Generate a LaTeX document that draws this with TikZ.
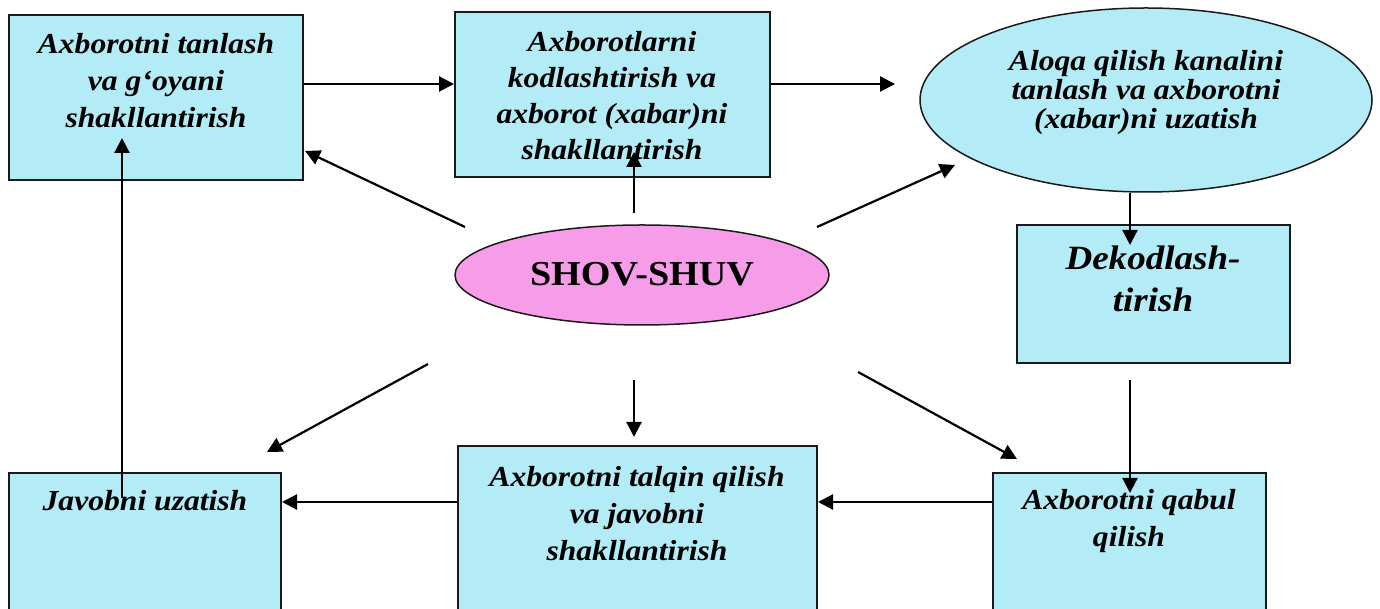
\documentclass[tikz,border=0pt]{standalone}
\usepackage{fontspec}
\newfontfamily\tnr{Liberation Serif}[FakeStretch=1.09]
\usetikzlibrary{arrows.meta,shapes.geometric}
\definecolor{boxcyan}{HTML}{B3EBF6}
\definecolor{shuvpink}{HTML}{F79CE8}
\definecolor{edgecol}{HTML}{1A1A1A}
\begin{document}
\begin{tikzpicture}[x=1pt,y=1pt,
  box/.style={draw=edgecol, line width=2pt, fill=boxcyan, inner sep=0pt},
  oval/.style={ellipse, draw=edgecol, line width=1.5pt, inner sep=0pt},
  txt/.style={font=\tnr\bfseries\itshape\fontsize{29}{37}\selectfont, align=center, inner sep=0pt, anchor=north},
  arr/.style={line width=2.2pt, draw=black, -{Triangle[length=15pt,width=15pt]}}]
\useasboundingbox (0,0) rectangle (1380,609);
\clip (0,0) rectangle (1380,609);
% boxes
\node[box, minimum width=294pt, minimum height=165pt] (A) at (156,511.5) {};
\node[box, minimum width=315pt, minimum height=165pt] (B) at (612.5,514.5) {};
\node[oval, fill=boxcyan, minimum width=452pt, minimum height=184pt] (C) at (1146,509) {};
\node[box, minimum width=273pt, minimum height=138pt] (D) at (1153.5,315) {};
\node[box, minimum width=273pt, minimum height=160pt] (E) at (1129.5,56) {};
\node[box, minimum width=359pt, minimum height=187pt] (F) at (637.5,69.5) {};
\node[box, minimum width=272pt, minimum height=160pt] (G) at (145,56) {};
\node[oval, fill=shuvpink, minimum width=374pt, minimum height=100pt] (S) at (642,334) {};
% texts
\node[txt] (tA) at (156,576) {Axborotni tanlash\\va g‘oyani\\shakllantirish};
\node[txt, font=\tnr\bfseries\itshape\fontsize{29}{36}\selectfont] (tB) at (612,578) {Axborotlarni\\kodlashtirish va\\axborot (xabar)ni\\shakllantirish};
\node[txt, font=\tnr\bfseries\itshape\fontsize{29}{29}\selectfont] (tC) at (1146,559) {Aloqa qilish kanalini\\tanlash va axborotni\\(xabar)ni uzatish};
\node[txt, font=\tnr\bfseries\itshape\fontsize{34}{42}\selectfont] (tD) at (1153,363) {Dekodlash-\\tirish};
\node[txt] (tE) at (1129,120) {Axborotni qabul\\qilish};
\node[txt] (tF) at (637,143) {Axborotni talqin qilish\\va javobni\\shakllantirish};
\node[txt] (tG) at (145,119) {Javobni uzatish};
\node[font=\tnr\bfseries\fontsize{35}{40}\selectfont, inner sep=0pt, anchor=base] (tS) at (642,323) {SHOV-SHUV};
% connector ends
\coordinate (rowtop) at (0,525);
\coordinate (rowbot) at (0,107);
\coordinate (cIn) at (895,525);
\coordinate (dIn) at (1130,364);
\coordinate (dOut) at (1130,229);
\coordinate (eIn) at (1130,116);
\coordinate (gOut) at (122,111);
\coordinate (aIn) at (122,471);
\coordinate (sB) at (634,396);
\coordinate (bIn) at (634,457);
\coordinate (sA) at (465,382);
\coordinate (aIn2) at (305,458);
\coordinate (sC) at (817,382);
\coordinate (cIn2) at (955,444);
\coordinate (sG) at (428,245);
\coordinate (gIn) at (267,157);
\coordinate (sF) at (634,229);
\coordinate (fIn) at (634,172);
\coordinate (sE) at (858,237);
\coordinate (eIn2) at (1017,150);
% connectors
\draw[arr] (A.east |- rowtop) -- (B.west |- rowtop);
\draw[arr] (B.east |- rowtop) -- (cIn);
\draw[arr] (dIn |- C.south) -- (dIn);
\draw[arr] (dOut) -- (eIn);
\draw[arr] (E.west |- rowbot) -- (F.east |- rowbot);
\draw[arr] (F.west |- rowbot) -- (G.east |- rowbot);
\draw[arr] (gOut) -- (aIn);
\draw[arr] (sB) -- (bIn);
\draw[arr] (sA) -- (aIn2);
\draw[arr] (sC) -- (cIn2);
\draw[arr] (sG) -- (gIn);
\draw[arr] (sF) -- (fIn);
\draw[arr] (sE) -- (eIn2);
\end{tikzpicture}
\end{document}
